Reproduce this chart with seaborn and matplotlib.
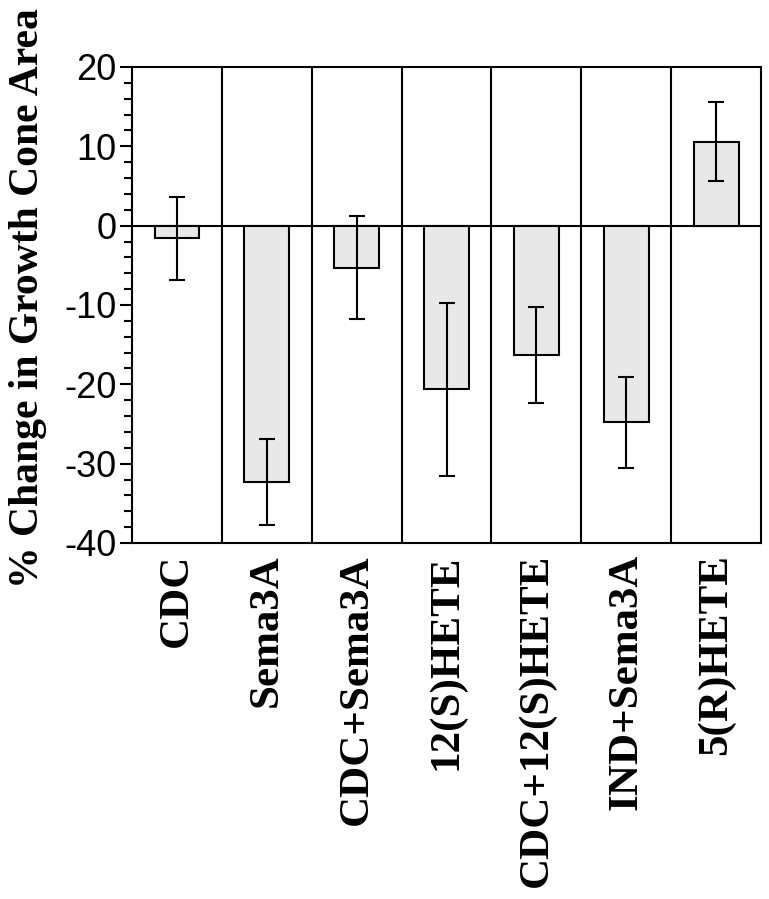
import pandas as pd
import numpy as np
import matplotlib
matplotlib.use("Agg")
import matplotlib.pyplot as plt
import seaborn as sns
from matplotlib.ticker import MultipleLocator

# Values
treatments = ["CDC", "Sema3A", "CDC+Sema3A", "12(S)HETE",
              "CDC+12(S)HETE", "IND+Sema3A", "5(R)HETE"]
pct_change = [-1.6, -32.3, -5.3, -20.6, -16.3, -24.8, 10.6]
sem = [5.2, 5.4, 6.5, 10.9, 6.1, 5.7, 5.0]

df = pd.DataFrame({"treatment": treatments, "change": pct_change, "sem": sem})

sns.set_style("ticks")
plt.rcParams["font.family"] = ["Liberation Sans", "DejaVu Sans"]
plt.rcParams["axes.unicode_minus"] = False
for key in ["text.color", "axes.labelcolor", "xtick.color", "ytick.color"]:
    plt.rcParams[key] = "black"

fig = plt.figure(figsize=(7.69, 8.99), dpi=100)
ax = fig.add_axes([0.1717, 0.396, 0.8179, 0.5295])

sns.barplot(data=df, x="treatment", y="change", color="#e8e8e8",
            edgecolor="black", linewidth=1.5, width=0.5,
            errorbar=None, saturation=1, ax=ax)

# SEM error bars
ax.errorbar(np.arange(len(df)), df["change"], yerr=df["sem"], fmt="none",
            ecolor="black", elinewidth=1.5, capsize=6, capthick=1.5)

# zero line and category separators
ax.axhline(0, color="black", lw=1.5, zorder=0.5)
for b in np.arange(len(df) - 1) + 0.5:
    ax.axvline(b, color="black", lw=1.5, zorder=0.5)

ax.set_xlim(-0.5, len(df) - 0.5)
ax.set_ylim(-40, 20)
ax.yaxis.set_major_locator(MultipleLocator(10))
ax.yaxis.set_minor_locator(MultipleLocator(2))
ax.tick_params(axis="y", which="major", length=9, width=1.5, pad=2,
               labelsize=26)
ax.tick_params(axis="y", which="minor", length=5.5, width=1.5)
ax.tick_params(axis="x", length=0, pad=8)

for s in ax.spines.values():
    s.set_visible(True)
    s.set_linewidth(1.5)
    s.set_color("black")

ax.set_xticks(range(len(df)))
ax.set_xticklabels(treatments, rotation=90, fontsize=31, fontweight="bold",
                   family="Liberation Serif", va="top", ha="center")
ax.set_xlabel("")
ax.set_ylabel("% Change in Growth Cone Area", fontsize=30, fontweight="bold",
              family="Liberation Serif")
ax.yaxis.set_label_coords(-0.135, 0.515)

fig.savefig("out.png", dpi=100)
